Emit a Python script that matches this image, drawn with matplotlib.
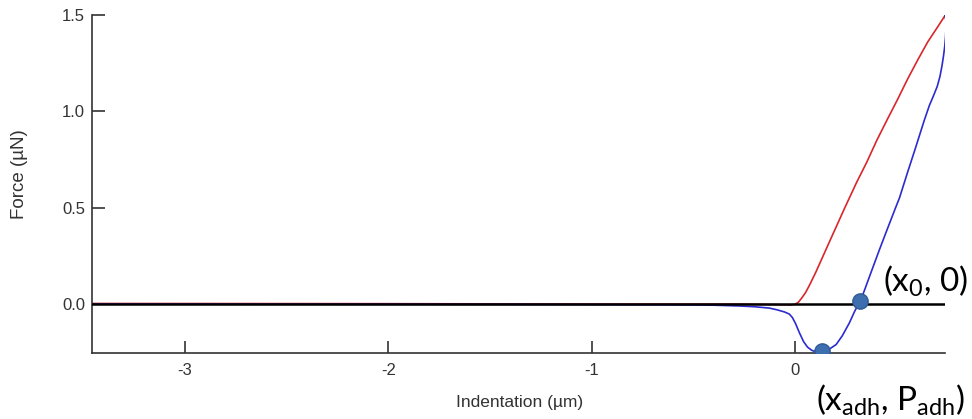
import matplotlib.pyplot as plt

# loading curve (red)
load_x = [-3.457, -2.0, -1.0, -0.3, -0.1, -0.02, 0.0, 0.015, 0.03, 0.05, 0.07, 0.1,
          0.134, 0.17, 0.2, 0.241, 0.3, 0.35, 0.4, 0.45, 0.502, 0.55, 0.6, 0.65,
          0.7, 0.735]
load_y = [0.003, 0.002, 0.0, 0.0, -0.003, -0.005, 0.0, 0.01, 0.03, 0.06, 0.1, 0.165,
          0.245, 0.33, 0.4, 0.496, 0.63, 0.735, 0.85, 0.955, 1.062, 1.165, 1.265,
          1.36, 1.44, 1.497]

# unloading curve (blue)
unload_x = [0.735, 0.739, 0.740, 0.738, 0.734, 0.728, 0.72, 0.71, 0.697, 0.68,
            0.658, 0.633, 0.59, 0.55, 0.511, 0.494, 0.45, 0.412, 0.37, 0.33, 0.318,
            0.29, 0.265, 0.23, 0.2, 0.165, 0.131, 0.1, 0.08, 0.059, 0.04, 0.02, 0.0,
            -0.015, -0.03, -0.054, -0.09, -0.128, -0.2, -0.275, -0.4, -0.6, -1.5,
            -3.457]
unload_y = [1.497, 1.475, 1.44, 1.39, 1.34, 1.29, 1.235, 1.18, 1.13, 1.085, 1.03,
            0.953, 0.81, 0.68, 0.55, 0.505, 0.385, 0.28, 0.16, 0.045, 0.017, -0.04,
            -0.098, -0.165, -0.21, -0.235, -0.245, -0.248, -0.24, -0.223, -0.195,
            -0.15, -0.1, -0.07, -0.052, -0.041, -0.03, -0.021, -0.014, -0.01,
            -0.006, -0.004, -0.002, 0.0]

# marked points: (x0, 0) and (x_adh, P_adh)
mark_x = [0.318, 0.131]
mark_y = [0.017, -0.242]

x_ticks = [-3, -2, -1, 0]
y_ticks = [0.0, 0.5, 1.0, 1.5]

plt.rcParams['font.family'] = ['Liberation Sans', 'DejaVu Sans']

fig = plt.figure(figsize=(9.72, 4.19), dpi=100)
ax = fig.add_axes([92 / 972, 66 / 419, 853 / 972, 338 / 419])

ax.plot(load_x, load_y, color='#d9262b', lw=1.2, zorder=2)
ax.plot(unload_x, unload_y, color='#2b2bd0', lw=1.2, zorder=2)
ax.plot([-3.457, 0.735], [0, 0], color='black', lw=1.8, zorder=3)
ax.plot(mark_x, mark_y, 'o', ms=11, color='#3d6fae', mec='#2f5a94', mew=1, zorder=4)

ax.set_xlim(-3.457, 0.735)
ax.set_ylim(-0.254, 1.5)
ax.set_xticks(x_ticks)
ax.set_yticks(y_ticks)
ax.set_xticklabels([str(t) for t in x_ticks])
ax.set_yticklabels(['%.1f' % t for t in y_ticks])

for side in ['top', 'right']:
    ax.spines[side].set_visible(False)
for side in ['left', 'bottom']:
    ax.spines[side].set_color('#333333')
    ax.spines[side].set_linewidth(1.2)

ax.tick_params(axis='both', direction='in', length=9, width=1.2, color='#333333',
               labelcolor='#333333', labelsize=12)
ax.tick_params(axis='x', pad=7)
ax.tick_params(axis='y', pad=5)

fig.text(520 / 972, 1 - 402 / 419, 'Indentation (µm)', ha='center', va='center',
         fontsize=12.5, color='#333333')
fig.text(19 / 972, 1 - 174 / 419, 'Force (µN)', ha='center', va='center',
         rotation=90, fontsize=13.5, color='#333333')

fig.text(883 / 972, 1 - 281 / 419, r'($\mathregular{x_0}$, 0)', ha='left',
         va='center', fontsize=24, family='Lato', color='black')
fig.text(816 / 972, 1 - 400 / 419,
         r'($\mathregular{x_{adh}}$, $\mathregular{P_{adh}}$)',
         ha='left', va='center', fontsize=24, family='Lato', color='black')

fig.savefig('out.png', dpi=100)
